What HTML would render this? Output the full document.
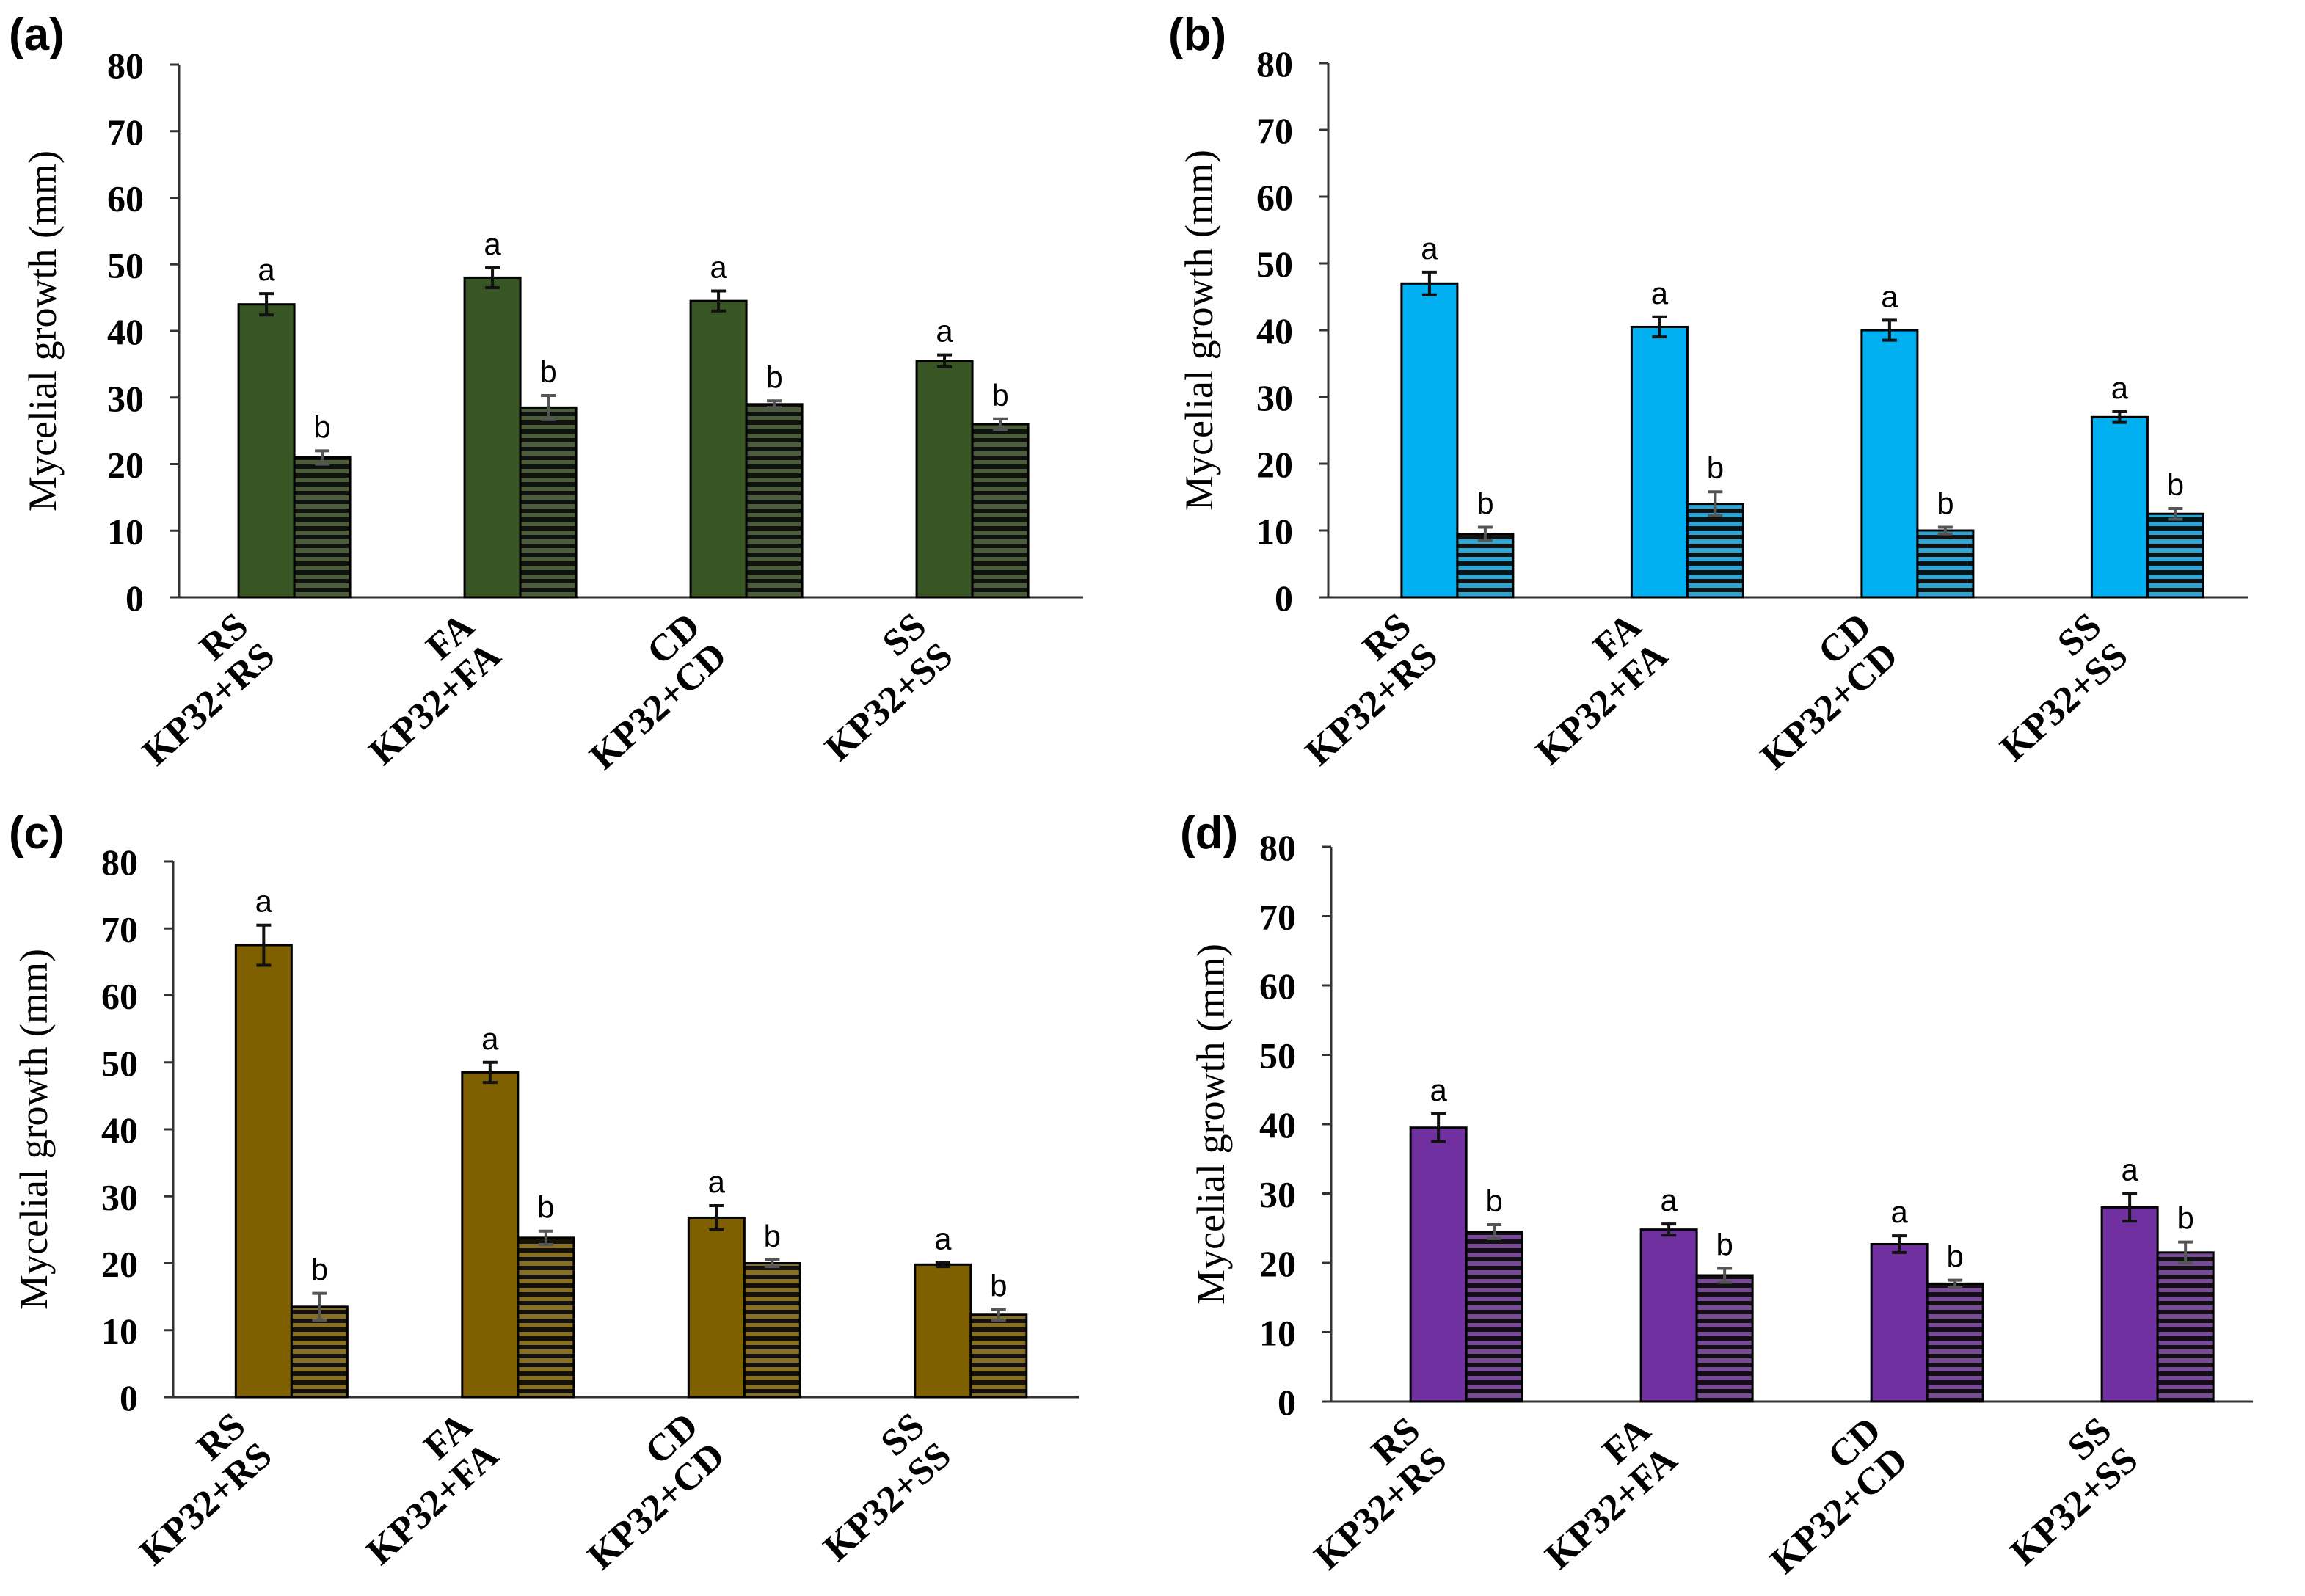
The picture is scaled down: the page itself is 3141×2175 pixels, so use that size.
<!DOCTYPE html>
<html><head><meta charset="utf-8"><style>
html,body{margin:0;padding:0;background:#fff;}
svg{display:block;}
text{font-family:"Liberation Serif",serif;}
text.sans{font-family:"Liberation Sans",sans-serif;}
</style></head><body>
<svg id="chart" width="3141" height="2175" viewBox="0 0 1570.5 1087.5" xmlns="http://www.w3.org/2000/svg">
<defs>
<pattern id="hatch-a" width="6" height="6" patternUnits="userSpaceOnUse"><rect width="6" height="6" fill="#111"/><rect y="1.5" width="6" height="3" fill="#4a5e3a"/></pattern>
<pattern id="hatch-b" width="6" height="6" patternUnits="userSpaceOnUse"><rect width="6" height="6" fill="#111"/><rect y="1.5" width="6" height="3" fill="#2aa6d6"/></pattern>
<pattern id="hatch-c" width="6" height="6" patternUnits="userSpaceOnUse"><rect width="6" height="6" fill="#111"/><rect y="1.5" width="6" height="3" fill="#8a6f20"/></pattern>
<pattern id="hatch-d" width="6" height="6" patternUnits="userSpaceOnUse"><rect width="6" height="6" fill="#111"/><rect y="1.5" width="6" height="3" fill="#7a4a9a"/></pattern>
</defs>
</svg>
<script>
const categories = ["RS","FA","CD","SS"];
const treatedLabels = ["KP32+RS","KP32+FA","KP32+CD","KP32+SS"];
const yTicks = [0,10,20,30,40,50,60,70,80];
const controlA = [44,48,44.5,35.5];
const treatedA = [21,28.5,29,26];
const controlErrA = [1.6,1.5,1.5,0.9];
const treatedErrA = [1,1.8,0.5,0.8];
const controlB = [47,40.5,40,27];
const treatedB = [9.5,14,10,12.5];
const controlErrB = [1.7,1.5,1.5,0.8];
const treatedErrB = [1,1.8,0.5,0.8];
const controlC = [67.5,48.5,26.8,19.8];
const treatedC = [13.5,23.8,20,12.3];
const controlErrC = [3,1.5,1.8,0.3];
const treatedErrC = [2,1,0.5,0.8];
const controlD = [39.5,24.8,22.7,28];
const treatedD = [24.5,18.2,17,21.5];
const controlErrD = [2,0.8,1.2,2];
const treatedErrD = [1,1,0.5,1.5];

const NS="http://www.w3.org/2000/svg";
const svg=document.getElementById('chart');
function mk(tag,attrs,parent){const e=document.createElementNS(NS,tag);for(const k in attrs)e.setAttribute(k,attrs[k]);(parent||svg).appendChild(e);return e;}

const panels=[
 {id:'a',letter:'(a)',lx:6,ly:34,x0:122,x1:738,y0:407,y80:44,off:0,color:'#375623',ctrl:controlA,trt:treatedA,ce:controlErrA,te:treatedErrA,tx:38},
 {id:'b',letter:'(b)',lx:796,ly:34,x0:905,x1:1532,y0:407,y80:43,off:8,color:'#00b0f0',ctrl:controlB,trt:treatedB,ce:controlErrB,te:treatedErrB,tx:826},
 {id:'c',letter:'(c)',lx:6,ly:578,x0:118,x1:735,y0:952,y80:587,off:2,color:'#7f6000',ctrl:controlC,trt:treatedC,ce:controlErrC,te:treatedErrC,tx:32},
 {id:'d',letter:'(d)',lx:804,ly:578,x0:907,x1:1535,y0:955,y80:577,off:12,color:'#7030a0',ctrl:controlD,trt:treatedD,ce:controlErrD,te:treatedErrD,tx:834}
];

panels.forEach(p=>{
 const g=mk('g',{});
 
 
 const ys=v=>p.y0-(v/80)*(p.y0-p.y80);
 const bw=(p.x1-p.x0)/4;
 const barW=38;
 const t=mk('text',{x:p.lx,y:p.ly,'font-size':31,'font-weight':600,class:'sans'},g);t.textContent=p.letter;
 
 const yt=mk('text',{transform:`translate(${p.tx},${(p.y0+p.y80)/2}) rotate(-90)`,'text-anchor':'middle','font-size':27},g);
 yt.textContent='Mycelial  growth (mm)';
 
 const ax=mk('line',{x1:p.x0,y1:p.y80,x2:p.x0,y2:p.y0,stroke:'#333','stroke-width':1.5},g);
 
 const xa=mk('line',{x1:p.x0,y1:p.y0,x2:p.x1,y2:p.y0,stroke:'#333','stroke-width':1.5},g);
 
 yTicks.forEach(v=>{
  const tk=mk('line',{x1:p.x0-6,x2:p.x0,y1:ys(v),y2:ys(v),stroke:'#333','stroke-width':1.5},g);
  
  const tl=mk('text',{x:p.x0-24,y:ys(v)+9,'text-anchor':'end','font-size':25,'font-weight':'bold'},g);
  tl.textContent=v;
  
 });
 categories.forEach((c,i)=>{
  const cx=p.x0+bw*i+bw*0.5+(bw*0.01)+p.off;
  const xs=[cx-barW,cx];
  const vals=[p.ctrl[i],p.trt[i]],errs=[p.ce[i],p.te[i]];
  vals.forEach((v,j)=>{
   const r=mk('rect',{x:xs[j],y:ys(v),width:barW,height:p.y0-ys(v),fill:j?`url(#hatch-${p.id})`:p.color,stroke:'#000','stroke-width':1.5},g);
   
   
   const ex=xs[j]+barW/2,e=errs[j];
   const ec=j?'#555':'#111';
   const eb=mk('path',{d:`M${ex},${ys(v+e)}V${ys(v-e)}M${ex-5},${ys(v+e)}H${ex+5}M${ex-5},${ys(v-e)}H${ex+5}`,stroke:ec,'stroke-width':2,fill:'none'},g);
   
   const lt=mk('text',{x:ex,y:ys(v+e)-9,'text-anchor':'middle','font-size':21,class:'sans'},g);
   lt.textContent=j?'b':'a';
   
  });
  const lg=mk('g',{transform:`translate(${cx-30},${p.y0+22}) rotate(-42)`},g);
  
  const l1=mk('text',{x:0,y:0,'text-anchor':'end','font-size':26,'font-weight':'bold'},lg);l1.textContent=c;
  
  const l2=mk('text',{x:0,y:27,'text-anchor':'end','font-size':26,'font-weight':'bold'},lg);l2.textContent=treatedLabels[i];
  
 });
});
</script>
</body></html>
